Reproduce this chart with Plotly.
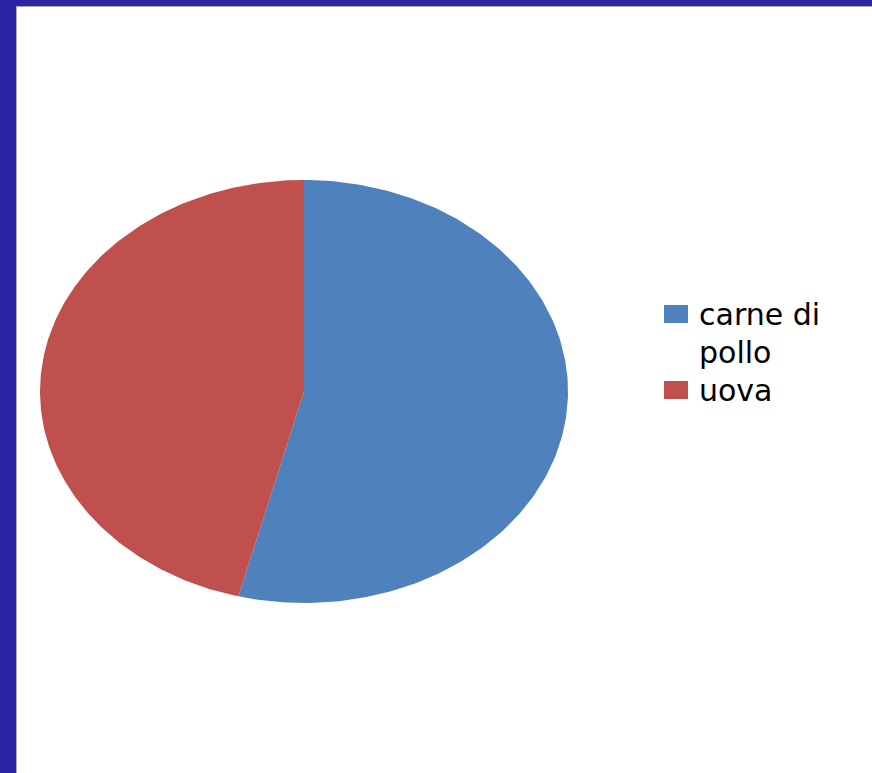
import numpy as np
import plotly.graph_objects as go

# ---- data ----
categories = ["carne di pollo", "uova"]
values = [54, 46]
colors = ["#4F81BD", "#C0504D"]

# ---- layout constants (pixel-like axis units) ----
W, H = 872, 773
ML, MT = 16, 6
cx, cy, rx, ry = 304, 391.5, 264, 211.5

fig = go.Figure()

total = sum(values)
start = 0.0
for name, v, col in zip(categories, values, colors):
    frac = v / total
    th = np.linspace(start, start + frac, 200) * 2 * np.pi
    xs = np.concatenate([[cx], cx + rx * np.sin(th), [cx]])
    ys = np.concatenate([[cy], cy - ry * np.cos(th), [cy]])
    fig.add_trace(go.Scatter(
        x=xs, y=ys, mode="lines", fill="toself", fillcolor=col,
        line=dict(width=0, color=col), name=name, showlegend=False,
        hoverinfo="skip"))
    start += frac

# ---- manual legend matching the reference look ----
def wrap(label, width=9):
    words, lines, cur = label.split(), [], ""
    for w in words:
        if cur and len(cur) + 1 + len(w) > width:
            lines.append(cur)
            cur = w
        else:
            cur = (cur + " " + w).strip()
    lines.append(cur)
    return lines

leg_x0, leg_y = 664, 304
sq_w, sq_h = 24, 18
line_h, item_gap = 38, 38
font = dict(family="DejaVu Sans", size=30, color="black")
y = leg_y
for name, col in zip(categories, colors):
    fig.add_shape(type="rect", xref="x", yref="y",
                  x0=leg_x0, x1=leg_x0 + sq_w, y0=y + 1, y1=y + 1 + sq_h,
                  fillcolor=col, line=dict(width=0))
    lines = wrap(name)
    for i, ln in enumerate(lines):
        fig.add_annotation(x=leg_x0 + 33, y=y + 21 + i * line_h, xref="x", yref="y",
                           text=ln, showarrow=False, xanchor="left",
                           yanchor="bottom", font=font, yshift=-9)
    y += (len(lines) - 1) * line_h + item_gap

# ---- frame lines ----
fig.add_shape(type="line", xref="x", yref="y", x0=16, x1=16, y0=5, y1=H,
              line=dict(color="#A8A8A8", width=2))
fig.add_shape(type="line", xref="x", yref="y", x0=15, x1=W, y0=6, y1=6,
              line=dict(color="#A8A8A8", width=2))

fig.update_layout(
    width=W, height=H,
    margin=dict(l=ML, r=0, t=MT, b=0, pad=0),
    paper_bgcolor="#2C25A3", plot_bgcolor="white",
    xaxis=dict(range=[ML, W], visible=False, fixedrange=True),
    yaxis=dict(range=[H, MT], visible=False, fixedrange=True),
    showlegend=False,
)

fig.write_html("out.html",
               config={"displayModeBar": False},
               post_script="document.body.style.margin='0';document.body.style.overflow='hidden';")
